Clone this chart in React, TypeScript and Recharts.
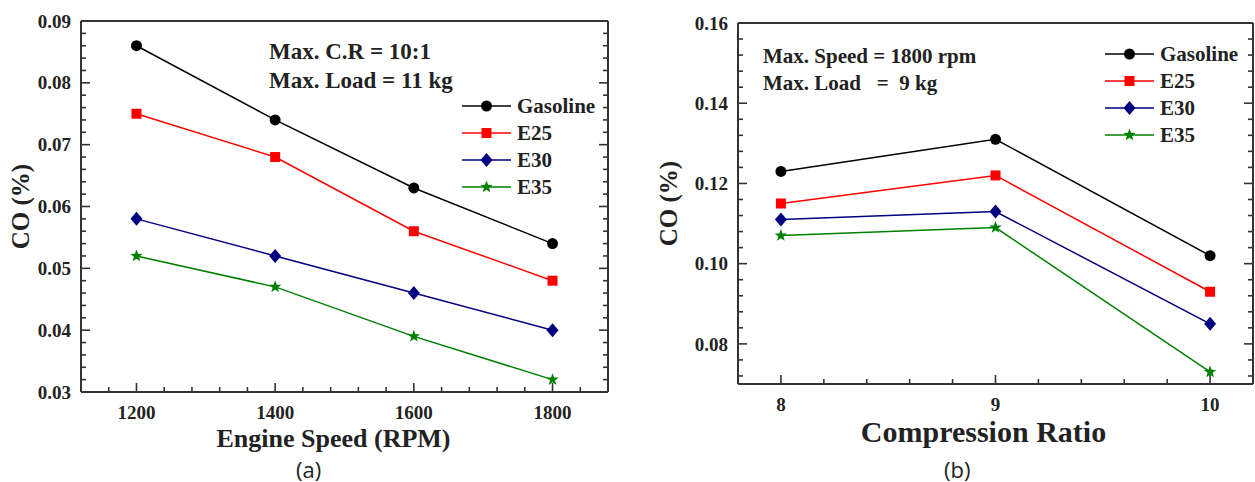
import React from "react";
import { LineChart, Line, XAxis, YAxis, Label } from "recharts";

// (a) CO vs engine speed
const speedRpm = [1200, 1400, 1600, 1800];
const coGasolineA = [0.086, 0.074, 0.063, 0.054];
const coE25A = [0.075, 0.068, 0.056, 0.048];
const coE30A = [0.058, 0.052, 0.046, 0.04];
const coE35A = [0.052, 0.047, 0.039, 0.032];

// (b) CO vs compression ratio
const compressionRatio = [8, 9, 10];
const coGasolineB = [0.123, 0.131, 0.102];
const coE25B = [0.115, 0.122, 0.093];
const coE30B = [0.111, 0.113, 0.085];
const coE35B = [0.107, 0.109, 0.073];

// axis ticks (labelled ones)
const speedTicks = [1200, 1400, 1600, 1800];
const coTicksA = [0.03, 0.04, 0.05, 0.06, 0.07, 0.08, 0.09];
const crTicks = [8, 9, 10];
const coTicksB = [0.08, 0.1, 0.12, 0.14, 0.16];

const seriesNames = ["Gasoline", "E25", "E30", "E35"];
const seriesKeys = ["gasoline", "e25", "e30", "e35"];
const seriesColors = ["#000000", "#ff0000", "#000080", "#008000"];
const seriesShapes = ["circle", "square", "diamond", "star"];

const SERIF = "Liberation Serif";
const AXIS = "#333333";

const dataA = speedRpm.map((s, i) => ({
  speed: s,
  gasoline: coGasolineA[i],
  e25: coE25A[i],
  e30: coE30A[i],
  e35: coE35A[i],
}));

const dataB = compressionRatio.map((c, i) => ({
  cr: c,
  gasoline: coGasolineB[i],
  e25: coE25B[i],
  e30: coE30B[i],
  e35: coE35B[i],
}));

// minor + major tick positions between lo and hi
function tickRange(lo: number, hi: number, step: number) {
  const out: number[] = [];
  const n = Math.round((hi - lo) / step);
  for (let i = 0; i <= n; i++) out.push(+(lo + i * step).toFixed(6));
  return out;
}

const isMajor = (v: number, majors: number[]) =>
  majors.some((m) => Math.abs(m - v) < 1e-9);

function Marker({ cx, cy, shape, color }: any) {
  if (cx == null || cy == null) return null;
  if (shape === "circle") return <circle cx={cx} cy={cy} r={5.5} fill={color} />;
  if (shape === "square")
    return <rect x={cx - 5} y={cy - 5} width={10} height={10} fill={color} />;
  if (shape === "diamond")
    return (
      <polygon
        points={`${cx},${cy - 7} ${cx + 6},${cy} ${cx},${cy + 7} ${cx - 6},${cy}`}
        fill={color}
      />
    );
  const pts: string[] = [];
  for (let i = 0; i < 10; i++) {
    const r = i % 2 === 0 ? 6.5 : 2.7;
    const a = -Math.PI / 2 + (i * Math.PI) / 5;
    pts.push(`${cx + r * Math.cos(a)},${cy + r * Math.sin(a)}`);
  }
  return <polygon points={pts.join(" ")} fill={color} />;
}

const makeBottomTick = (majors: number[], fmt: (v: number) => string) =>
  (props: any) => {
    const { x, y, payload } = props;
    const major = isMajor(payload.value, majors);
    return (
      <g>
        <path d={`M${x},${y}V${y - (major ? 9 : 5)}`} stroke={AXIS} strokeWidth={1.6} fill="none" />
        {major && (
          <text x={x} y={y + 27} textAnchor="middle" style={{ fontFamily: SERIF, fontWeight: 700, fontSize: 19 }} fill="#222">
            {fmt(payload.value)}
          </text>
        )}
      </g>
    );
  };

const makeTopTick = (majors: number[]) => (props: any) => {
  const { x, y, payload } = props;
  const major = isMajor(payload.value, majors);
  return <path d={`M${x},${y}V${y + (major ? 9 : 5)}`} stroke={AXIS} strokeWidth={1.6} fill="none" />;
};

const makeLeftTick = (majors: number[], fmt: (v: number) => string) =>
  (props: any) => {
    const { x, y, payload } = props;
    const major = isMajor(payload.value, majors);
    return (
      <g>
        <path d={`M${x},${y}H${x + (major ? 9 : 5)}`} stroke={AXIS} strokeWidth={1.6} fill="none" />
        {major && (
          <text x={x - 10} y={y} dy="0.35em" textAnchor="end" style={{ fontFamily: SERIF, fontWeight: 700, fontSize: 19 }} fill="#222">
            {fmt(payload.value)}
          </text>
        )}
      </g>
    );
  };

const makeRightTick = (majors: number[]) => (props: any) => {
  const { x, y, payload } = props;
  const major = isMajor(payload.value, majors);
  return <path d={`M${x},${y}H${x - (major ? 9 : 5)}`} stroke={AXIS} strokeWidth={1.6} fill="none" />;
};

function axisTitle(text: string, size: number, dx: number, baseline: number) {
  return (props: any) => {
    const vb = props.viewBox;
    return (
      <text
        x={vb.x + vb.width / 2 + dx}
        y={vb.y + baseline}
        textAnchor="middle"
        style={{ fontFamily: SERIF, fontWeight: 700, fontSize: size }}
        fill="#222"
      >
        {text}
      </text>
    );
  };
}

function yTitle(text: string, cx: number) {
  return (props: any) => {
    const vb = props.viewBox;
    const cy = vb.y + vb.height / 2;
    const x = vb.x + cx;
    return (
      <text
        x={x}
        y={cy}
        transform={`rotate(-90, ${x}, ${cy})`}
        textAnchor="middle"
        dominantBaseline="central"
        style={{ fontFamily: SERIF, fontWeight: 700, fontSize: 25 }}
        fill="#222"
      >
        {text}
      </text>
    );
  };
}

function SeriesLines() {
  return seriesKeys.map((k, i) => (
    <Line
      key={k}
      type="linear"
      dataKey={k}
      name={seriesNames[i]}
      stroke={seriesColors[i]}
      strokeWidth={1.5}
      isAnimationActive={false}
      dot={(p: any) => (
        <Marker key={`${k}-${p.index}`} cx={p.cx} cy={p.cy} shape={seriesShapes[i]} color={seriesColors[i]} />
      )}
    />
  ));
}

function LegendBox({ left, top, gap, size }: { left: number; top: number; gap: number; size: number }) {
  return (
    <svg
      style={{ position: "absolute", left, top: top - 10, overflow: "visible" }}
      width={150}
      height={gap * 4}
    >
      {seriesNames.map((n, i) => {
        const y = 10 + i * gap;
        return (
          <g key={n}>
            <line x1={0} x2={49} y1={y} y2={y} stroke={seriesColors[i]} strokeWidth={1.5} />
            <Marker cx={24.5} cy={y} shape={seriesShapes[i]} color={seriesColors[i]} />
            <text x={55} y={y} dy="0.34em" style={{ fontFamily: SERIF, fontWeight: 700, fontSize: size }} fill="#222">
              {n}
            </text>
          </g>
        );
      })}
    </svg>
  );
}

const noteStyle = (left: number, top: number, size: number): React.CSSProperties => ({
  position: "absolute",
  left,
  top,
  fontFamily: SERIF,
  fontWeight: "bold",
  fontSize: size,
  lineHeight: `${size}px`,
  whiteSpace: "pre",
  color: "#222",
});

const captionStyle = (left: number): React.CSSProperties => ({
  position: "absolute",
  left,
  top: 455,
  fontFamily: "'Open Sans', sans-serif",
  fontSize: 22,
  lineHeight: "28px",
  color: "#222",
});

export default function App() {
  const speedAll = tickRange(1160, 1840, 40);
  const coAllA = tickRange(0.03, 0.09, 0.002);
  const crAll = tickRange(7.8, 10.2, 0.2);
  const coAllB = tickRange(0.072, 0.16, 0.004);

  return (
    <div style={{ position: "absolute", left: 0, top: 0, width: 1255, height: 482, background: "#fff" }}>
      <div style={{ position: "absolute", left: 0, top: 0 }}>
        <LineChart width={640} height={482} data={dataA} margin={{ top: 20, right: 31, bottom: 0, left: 0 }}>
          <XAxis
            dataKey="speed"
            type="number"
            domain={[1120, 1880]}
            ticks={speedAll}
            interval={0}
            height={90}
            tickSize={0}
            tickMargin={0}
            axisLine={{ stroke: AXIS, strokeWidth: 2 }}
            tickLine={false}
            tick={makeBottomTick(speedTicks, (v) => String(v))}
          >
            <Label content={axisTitle("Engine Speed (RPM)", 26, -11, 55)} />
          </XAxis>
          <XAxis
            xAxisId="top"
            orientation="top"
            type="number"
            domain={[1120, 1880]}
            allowDataOverflow
            ticks={speedAll}
            interval={0}
            height={1}
            tickSize={0}
            tickMargin={0}
            axisLine={{ stroke: AXIS, strokeWidth: 2 }}
            tickLine={false}
            tick={makeTopTick(speedTicks)}
          />
          <YAxis
            type="number"
            domain={[0.03, 0.09]}
            ticks={coAllA}
            interval={0}
            width={81}
            tickSize={0}
            tickMargin={0}
            axisLine={{ stroke: AXIS, strokeWidth: 2 }}
            tickLine={false}
            tick={makeLeftTick(coTicksA, (v) => v.toFixed(2))}
          >
            <Label content={yTitle("CO (%)", 20)} />
          </YAxis>
          <YAxis
            yAxisId="right"
            orientation="right"
            type="number"
            domain={[0.03, 0.09]}
            allowDataOverflow
            ticks={coAllA}
            interval={0}
            width={1}
            tickSize={0}
            tickMargin={0}
            axisLine={{ stroke: AXIS, strokeWidth: 2 }}
            tickLine={false}
            tick={makeRightTick(coTicksA)}
          />
          {SeriesLines()}
        </LineChart>
        <div style={noteStyle(269, 40, 23)}>Max. C.R = 10:1</div>
        <div style={noteStyle(269, 69, 23)}>Max. Load = 11 kg</div>
        <LegendBox left={462} top={106} gap={27} size={21} />
        <div style={captionStyle(296)}>(a)</div>
      </div>

      <div style={{ position: "absolute", left: 640, top: 0 }}>
        <LineChart width={615} height={482} data={dataB} margin={{ top: 22, right: 1, bottom: 0, left: 0 }}>
          <XAxis
            dataKey="cr"
            type="number"
            domain={[7.8, 10.2]}
            ticks={crAll}
            interval={0}
            height={98}
            tickSize={0}
            tickMargin={0}
            axisLine={{ stroke: AXIS, strokeWidth: 2 }}
            tickLine={false}
            tick={makeBottomTick(crTicks, (v) => String(v))}
          >
            <Label content={axisTitle("Compression Ratio", 30, -12, 58)} />
          </XAxis>
          <XAxis
            xAxisId="top"
            orientation="top"
            type="number"
            domain={[7.8, 10.2]}
            allowDataOverflow
            ticks={crAll}
            interval={0}
            height={1}
            tickSize={0}
            tickMargin={0}
            axisLine={{ stroke: AXIS, strokeWidth: 2 }}
            tickLine={false}
            tick={makeTopTick(crTicks)}
          />
          <YAxis
            type="number"
            domain={[0.07, 0.16]}
            ticks={coAllB}
            interval={0}
            width={98}
            tickSize={0}
            tickMargin={0}
            axisLine={{ stroke: AXIS, strokeWidth: 2 }}
            tickLine={false}
            tick={makeLeftTick(coTicksB, (v) => v.toFixed(2))}
          >
            <Label content={yTitle("CO (%)", 28)} />
          </YAxis>
          <YAxis
            yAxisId="right"
            orientation="right"
            type="number"
            domain={[0.07, 0.16]}
            allowDataOverflow
            ticks={coAllB}
            interval={0}
            width={1}
            tickSize={0}
            tickMargin={0}
            axisLine={{ stroke: AXIS, strokeWidth: 2 }}
            tickLine={false}
            tick={makeRightTick(coTicksB)}
          />
          {SeriesLines()}
        </LineChart>
        <div style={noteStyle(123, 46, 21)}>Max. Speed = 1800 rpm</div>
        <div style={noteStyle(123, 73, 21)}>Max. Load   =  9 kg</div>
        <LegendBox left={465} top={54} gap={27} size={21} />
        <div style={captionStyle(304)}>(b)</div>
      </div>
    </div>
  );
}
